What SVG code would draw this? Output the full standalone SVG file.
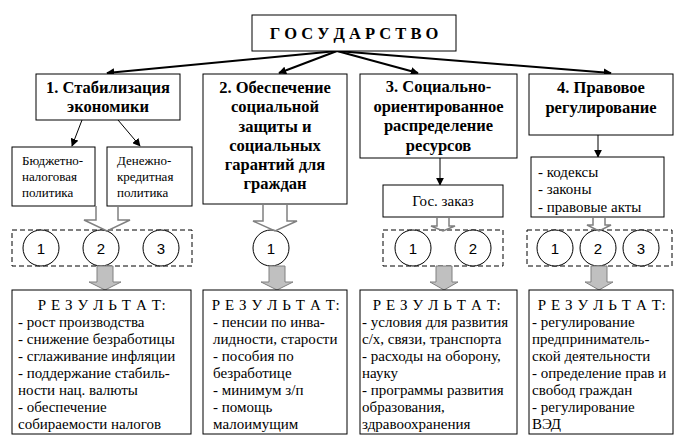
<svg xmlns="http://www.w3.org/2000/svg" width="681" height="444" viewBox="0 0 681 444" font-family="'Liberation Serif', 'Times New Roman', serif">
<style>
.box{fill:#fff;stroke:#000;stroke-width:1}
.dash{fill:none;stroke:#000;stroke-width:1;stroke-dasharray:5,3}
.circ{fill:#fff;stroke:#000;stroke-width:1}
.hol{fill:none;stroke:#808080;stroke-width:1.5}
.gray{fill:#c0c0c0;stroke:#808080;stroke-width:1}
.con{stroke:#000;fill:none}
.hd{font-weight:bold;font-size:16.5px;text-anchor:middle;fill:#000}
.tx{font-size:15px;fill:#000}
.rh{font-size:15px;letter-spacing:0.6px;text-anchor:middle;fill:#000}
.sm{font-size:13px;fill:#000}
.num{font-family:'Liberation Sans', Arial, sans-serif;font-size:15px;text-anchor:middle;fill:#000}
.mid{text-anchor:middle}
</style>
<defs>
<marker id="ah" viewBox="0 0 10 10" refX="9" refY="5" markerWidth="4" markerHeight="4" orient="auto" markerUnits="strokeWidth"><path d="M0,0 L10,5 L0,10 z" fill="#000"/></marker>
<marker id="ah1" viewBox="0 0 10 10" refX="9" refY="5" markerWidth="8" markerHeight="8" orient="auto" markerUnits="strokeWidth"><path d="M0,0 L10,5 L0,10 z" fill="#000"/></marker>
</defs>

<g id="connectors">
<line class="con" stroke-width="2" x1="337" y1="51" x2="107" y2="73" marker-end="url(#ah)"/>
<line class="con" stroke-width="2" x1="337" y1="51" x2="279" y2="73" marker-end="url(#ah)"/>
<line class="con" stroke-width="2" x1="337" y1="51" x2="418" y2="73" marker-end="url(#ah)"/>
<line class="con" stroke-width="2" x1="337" y1="51" x2="611" y2="73" marker-end="url(#ah)"/>
<line class="con" stroke-width="1" x1="82" y1="120" x2="72" y2="146" marker-end="url(#ah1)"/>
<line class="con" stroke-width="1" x1="118" y1="120" x2="140" y2="146" marker-end="url(#ah1)"/>
<line class="con" stroke-width="1" x1="440" y1="158" x2="440" y2="185" marker-end="url(#ah1)"/>
<line class="con" stroke-width="1" x1="598" y1="135" x2="598" y2="157" marker-end="url(#ah1)"/>
</g>

<g id="gos">
<rect class="box" x="252" y="15" width="204" height="36"/>
<text class="hd" x="354" y="39" font-size="16">Г О С У Д А Р С Т В О</text>
</g>

<g id="n1">
<rect class="box" x="36" y="74" width="144" height="46"/>
<text class="hd" x="108" y="93">1. Стабилизация</text>
<text class="hd" x="108" y="112">экономики</text>
</g>
<g id="n2">
<rect class="box" x="203" y="74" width="144" height="130"/>
<text class="hd" x="275" y="93">2. Обеспечение</text>
<text class="hd" x="275" y="112">социальной</text>
<text class="hd" x="275" y="131.5">защиты и</text>
<text class="hd" x="275" y="150.5">социальных</text>
<text class="hd" x="275" y="170">гарантий для</text>
<text class="hd" x="275" y="189">граждан</text>
</g>
<g id="n3">
<rect class="box" x="360" y="74" width="157" height="84"/>
<text class="hd" x="438.5" y="92">3. Социально-</text>
<text class="hd" x="438.5" y="111.5">ориентированное</text>
<text class="hd" x="438.5" y="131">распределение</text>
<text class="hd" x="438.5" y="150.5">ресурсов</text>
</g>
<g id="n4">
<rect class="box" x="529" y="74" width="144" height="61"/>
<text class="hd" x="601" y="93">4. Правовое</text>
<text class="hd" x="601" y="112.5">регулирование</text>
</g>

<g id="budget">
<rect class="box" x="12" y="147" width="83" height="59"/>
<text class="sm" x="22" y="165">Бюджетно-</text>
<text class="sm" x="22" y="181">налоговая</text>
<text class="sm" x="22" y="197">политика</text>
</g>
<g id="money">
<rect class="box" x="107" y="147" width="85" height="59"/>
<text class="sm" x="117" y="165">Денежно-</text>
<text class="sm" x="117" y="181">кредитная</text>
<text class="sm" x="117" y="197">политика</text>
</g>
<g id="goszakaz">
<rect class="box" x="383" y="185" width="120" height="32"/>
<text class="tx mid" x="443" y="206">Гос. заказ</text>
</g>
<g id="laws">
<rect class="box" x="531" y="157" width="133" height="60"/>
<text class="tx" x="538" y="177">- кодексы</text>
<text class="tx" x="538" y="194">- законы</text>
<text class="tx" x="538" y="212">- правовые акты</text>
</g>

<g id="tools1">
<rect class="dash" x="12" y="230" width="180" height="36"/>
<circle class="circ" cx="41" cy="248" r="18"/><text class="num" x="41" y="254">1</text>
<circle class="circ" cx="101" cy="248" r="18"/><text class="num" x="101" y="254">2</text>
<circle class="circ" cx="161" cy="248" r="18"/><text class="num" x="161" y="254">3</text>
<path class="hol" d="M96,206 V220 H84 L107,231 L130,220 H118 V206"/>
<path class="gray" d="M97,266 V282 H89 L105,290 L121,282 H113 V266 Z"/>
</g>
<g id="tools2">
<circle class="circ" cx="271" cy="248" r="18"/><text class="num" x="271" y="254">1</text>
<path class="hol" d="M263,204 V221 H253 L275,231 L297,221 H287 V204"/>
<path class="gray" d="M269,266 V282 H261 L277,290 L293,282 H285 V266 Z"/>
</g>
<g id="tools3">
<rect class="dash" x="383" y="230" width="120" height="36"/>
<circle class="circ" cx="413" cy="248" r="18"/><text class="num" x="413" y="254">1</text>
<circle class="circ" cx="473" cy="248" r="18"/><text class="num" x="473" y="254">2</text>
<path class="hol" d="M437,217 V226 H431 L443,231 L455,226 H449 V217"/>
<path class="gray" d="M436,266 V282 H430 L444,290 L458,282 H452 V266 Z"/>
</g>
<g id="tools4">
<rect class="dash" x="527" y="230" width="145" height="36"/>
<circle class="circ" cx="555" cy="248" r="18"/><text class="num" x="555" y="254">1</text>
<circle class="circ" cx="598" cy="248" r="18"/><text class="num" x="598" y="254">2</text>
<circle class="circ" cx="641" cy="248" r="18"/><text class="num" x="641" y="254">3</text>
<path class="hol" d="M593,217 V225 H587 L599,231 L611,225 H605 V217"/>
<path class="gray" d="M591,266 V282 H585 L599,290 L613,282 H607 V266 Z"/>
</g>

<g id="res1">
<rect class="box" x="12" y="290" width="179" height="144"/>
<text class="rh" x="102" y="310">Р Е З У Л Ь Т А Т:</text>
<text class="tx" x="18" y="327">- рост производства</text>
<text class="tx" x="18" y="344">- снижение безработицы</text>
<text class="tx" x="18" y="361">- сглаживание инфляции</text>
<text class="tx" x="18" y="377.5">- поддержание стабиль-</text>
<text class="tx" x="18" y="394.5">ности нац. валюты</text>
<text class="tx" x="18" y="411.5">- обеспечение</text>
<text class="tx" x="18" y="428.5">собираемости налогов</text>
</g>
<g id="res2">
<rect class="box" x="203" y="290" width="144" height="144"/>
<text class="rh" x="276" y="310">Р Е З У Л Ь Т А Т:</text>
<text class="tx" x="213" y="327">- пенсии по инва-</text>
<text class="tx" x="213" y="344">лидности, старости</text>
<text class="tx" x="213" y="361">- пособия по</text>
<text class="tx" x="213" y="377.5">безработице</text>
<text class="tx" x="213" y="394.5">- минимум з/п</text>
<text class="tx" x="213" y="411.5">- помощь</text>
<text class="tx" x="213" y="428.5">малоимущим</text>
</g>
<g id="res3">
<rect class="box" x="360" y="290" width="157" height="144"/>
<text class="rh" x="437" y="310">Р Е З У Л Ь Т А Т:</text>
<text class="tx" x="362" y="327">- условия для развития</text>
<text class="tx" x="362" y="344">с/х, связи, транспорта</text>
<text class="tx" x="362" y="361">- расходы на оборону,</text>
<text class="tx" x="362" y="377.5">науку</text>
<text class="tx" x="362" y="394.5">- программы развития</text>
<text class="tx" x="362" y="411.5">образования,</text>
<text class="tx" x="362" y="428.5">здравоохранения</text>
</g>
<g id="res4">
<rect class="box" x="529" y="290" width="144" height="144"/>
<text class="rh" x="602" y="310">Р Е З У Л Ь Т А Т:</text>
<text class="tx" x="532" y="327">- регулирование</text>
<text class="tx" x="532" y="344">предприниматель-</text>
<text class="tx" x="532" y="361">ской деятельности</text>
<text class="tx" x="532" y="377.5">- определение прав и</text>
<text class="tx" x="532" y="394.5">свобод граждан</text>
<text class="tx" x="532" y="411.5">- регулирование</text>
<text class="tx" x="532" y="428.5">ВЭД</text>
</g>
</svg>
